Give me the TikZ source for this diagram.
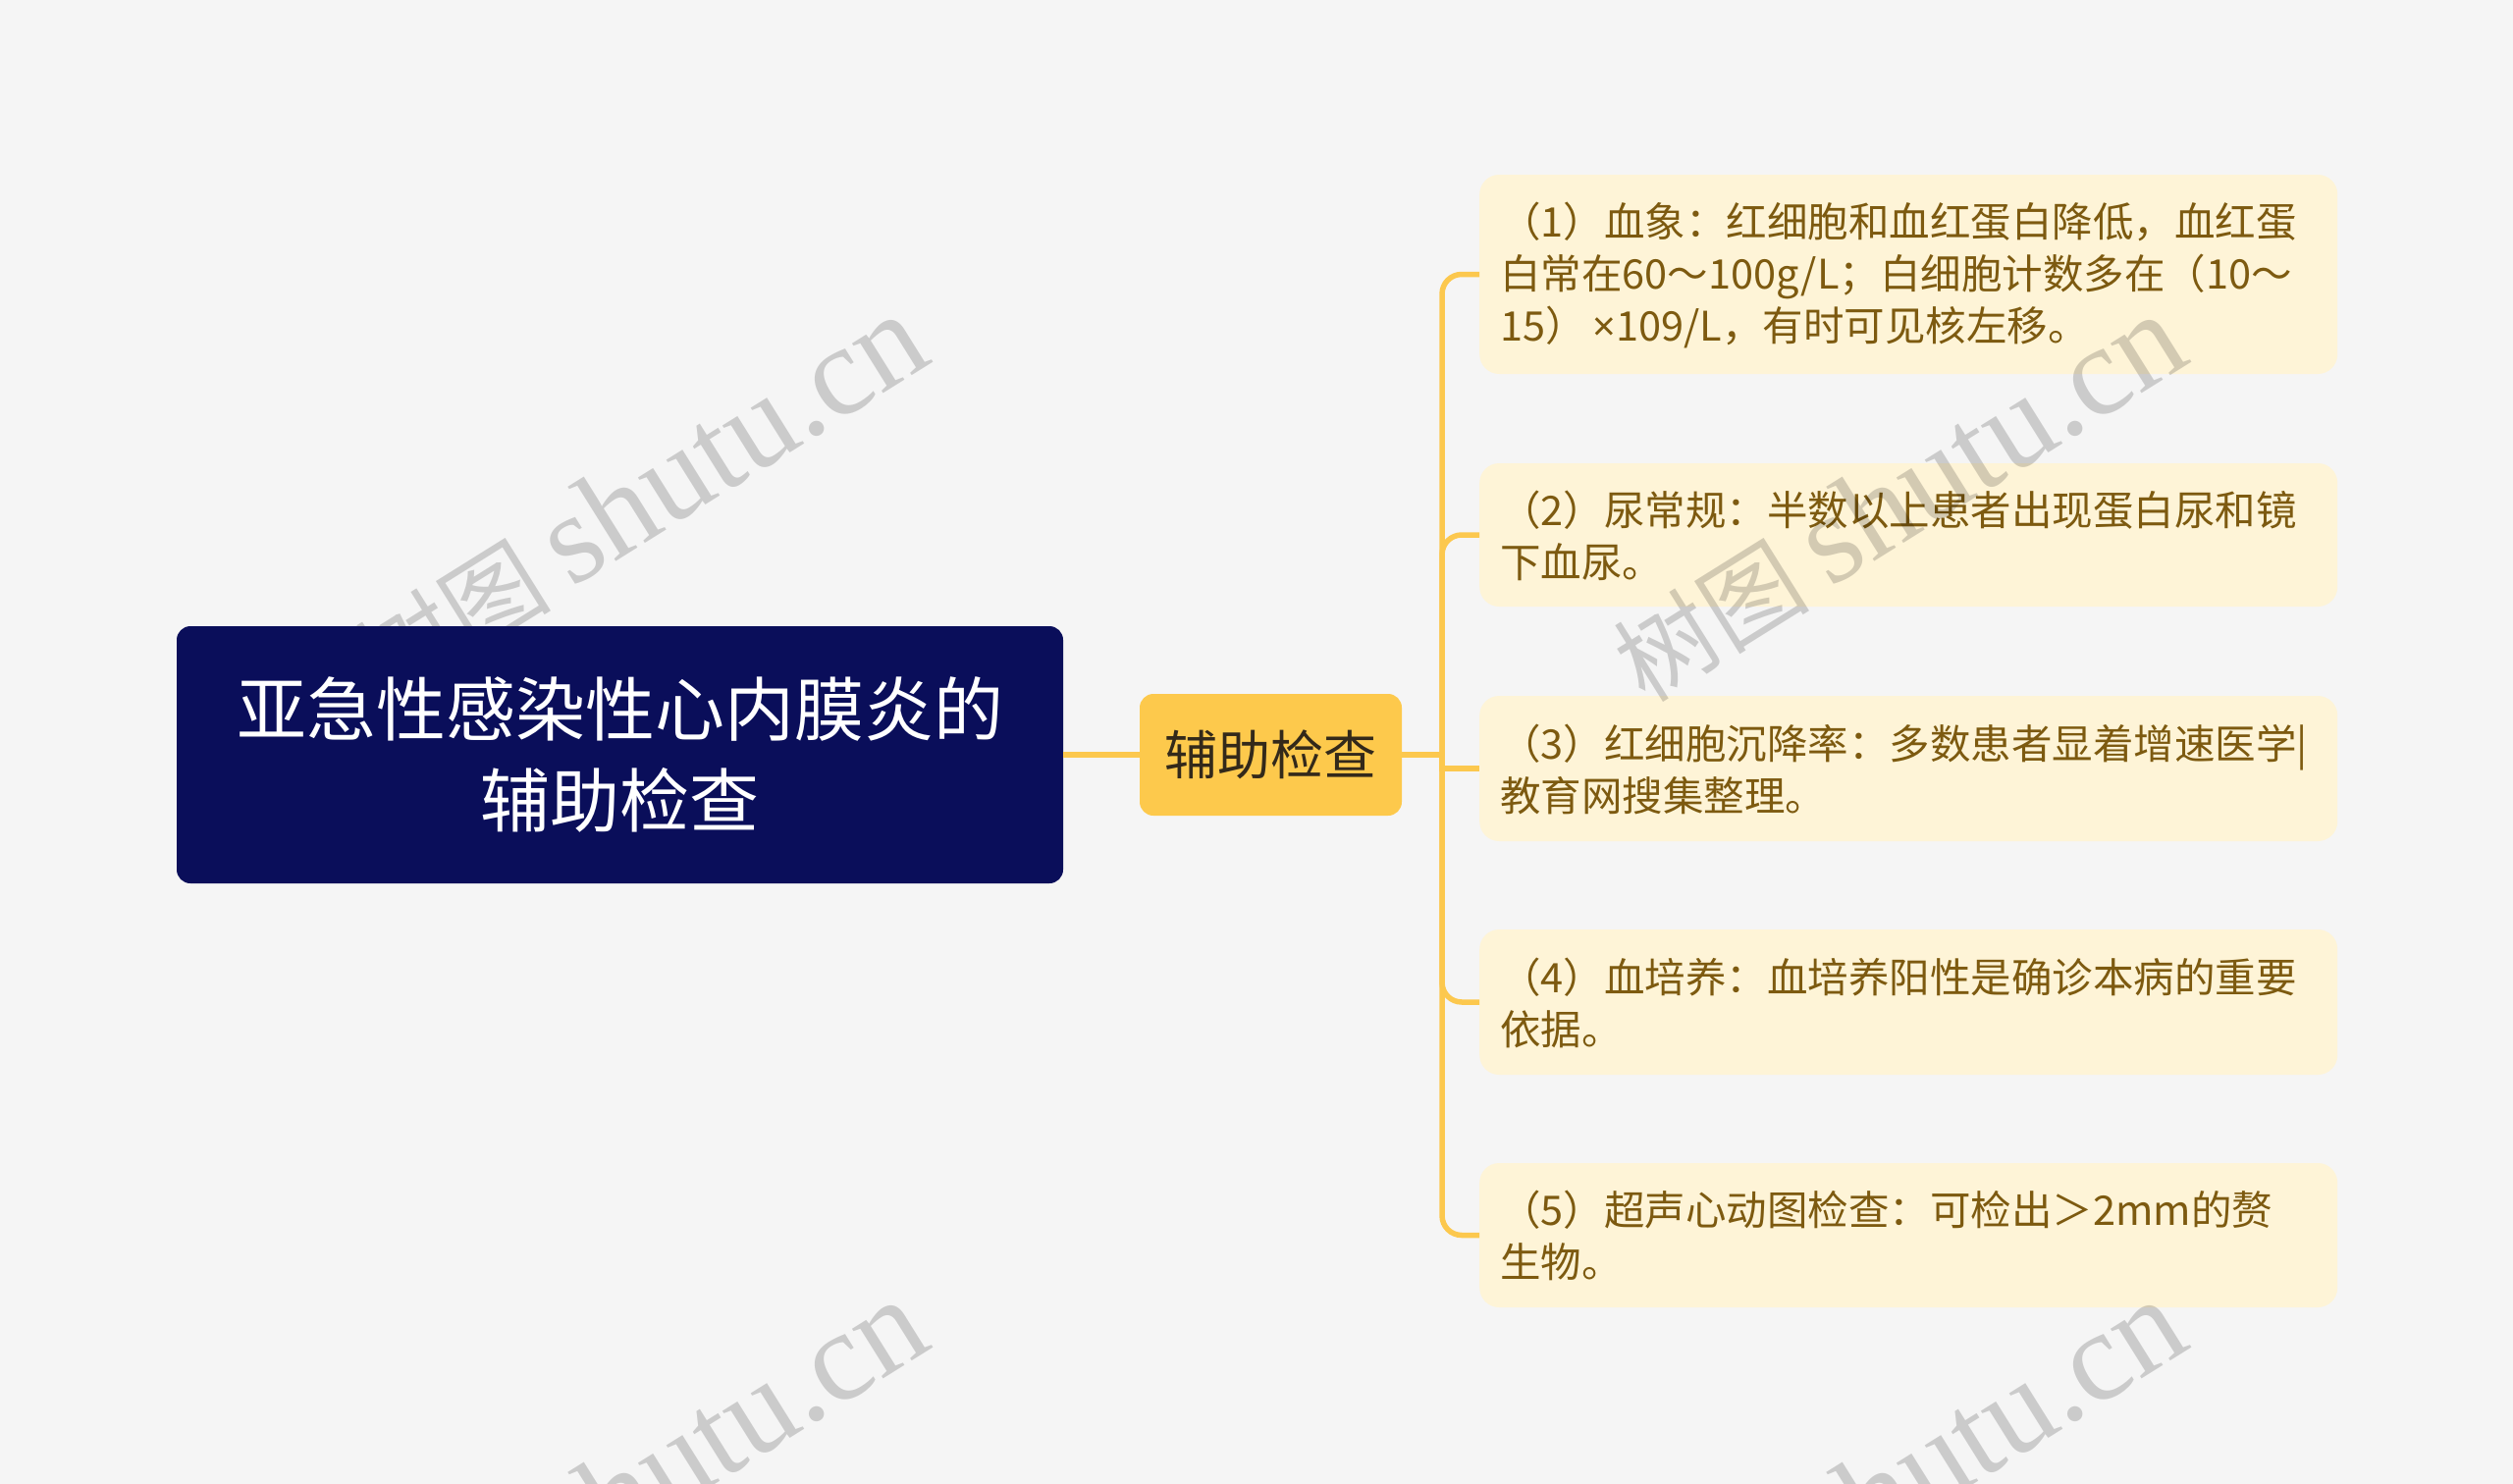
\documentclass[tikz,border=0pt]{standalone}
\usepackage{fontspec}
\setmainfont{Noto Sans CJK SC}
\newfontfamily\wmserif{Liberation Serif}
\newfontfamily\latsans{Noto Sans}
\definecolor{bgc}{HTML}{F5F5F5}
\definecolor{navyc}{HTML}{0A0E5A}
\definecolor{childc}{HTML}{FDC94C}
\definecolor{childtext}{HTML}{33291A}
\definecolor{linec}{HTML}{FCC84E}
\definecolor{leafc}{HTML}{FEF4D7}
\definecolor{leaftext}{HTML}{7D5A10}
\tikzset{
  rootbox/.style={fill=navyc, rounded corners=14pt, minimum width=903pt, minimum height=262pt,
    text=white, align=center, inner sep=0pt, font=\fontsize{71}{93}\selectfont},
  childbox/.style={fill=childc, rounded corners=14pt, minimum width=267pt, minimum height=124pt,
    text=childtext, align=center, inner sep=0pt, font=\fontsize{54}{64}\selectfont},
  leafbox/.style={fill=leafc, rounded corners=20pt, text width=832pt, inner xsep=21pt, inner ysep=0pt,
    text=leaftext, align=left, anchor=west, font=\fontsize{41.5}{53}\selectfont},
  link/.style={draw=linec, line width=5.5pt, rounded corners=20pt},
  wm/.style={rotate=32, text=black, opacity=0.17, inner sep=0pt, font=\fontsize{130}{130}\selectfont}
}
\newcommand{\wmtext}{{\fontsize{100}{100}\selectfont 树图}\,{\wmserif shutu.cn}}
\begin{document}
\begin{tikzpicture}[x=1pt,y=-1pt]
\useasboundingbox (0,0) rectangle (2560,1512);
\fill[bgc] (0,0) rectangle (2560,1512);
\clip (0,0) rectangle (2560,1512);

\node[childbox] (sub) at (1294.5,769) {辅助检查};

\node[leafbox, minimum height=203pt] (l1) at (1507,279.5) {\strut（1）血象：红细胞和血红蛋白降低，血红蛋\\白常在60～100g/L；白细胞计数多在（10～\\15）{\latsans\,×}109/L，有时可见核左移。};
\node[leafbox, minimum height=146pt] (l2) at (1507,545) {\strut（2）尿常规：半数以上患者出现蛋白尿和镜\\下血尿。};
\node[leafbox, minimum height=148pt] (l3) at (1507,783) {\strut（3）红细胞沉降率：多数患者显着增速医学|\\教育网搜集整理。};
\node[leafbox, minimum height=148pt] (l4) at (1507,1021) {\strut（4）血培养：血培养阳性是确诊本病的重要\\依据。};
\node[leafbox, minimum height=147pt] (l5) at (1507,1258.5) {\strut（5）超声心动图检查：可检出＞2mm的赘\\生物。};

\node[wm] (wm1) at (652,508) {\wmtext};
\node[wm] (wm2) at (1934,508) {\wmtext};
\node[wm] (wm3) at (652,1512) {\wmtext};
\node[wm] (wm4) at (1934,1512) {\wmtext};

\node[rootbox] (root) at (631.5,769) {亚急性感染性心内膜炎的\\辅助检查};

\coordinate (hub) at (1469,769);
\draw[link] (root.east) -- (sub.west);
\draw[link] (sub.east) -- (hub);
\draw[link] (hub) |- (l1.west);
\draw[link] (hub) |- (l2.west);
\draw[link, sharp corners] (hub) |- (l3.west);
\draw[link] (hub) |- (l4.west);
\draw[link] (hub) |- (l5.west);
\end{tikzpicture}
\end{document}
